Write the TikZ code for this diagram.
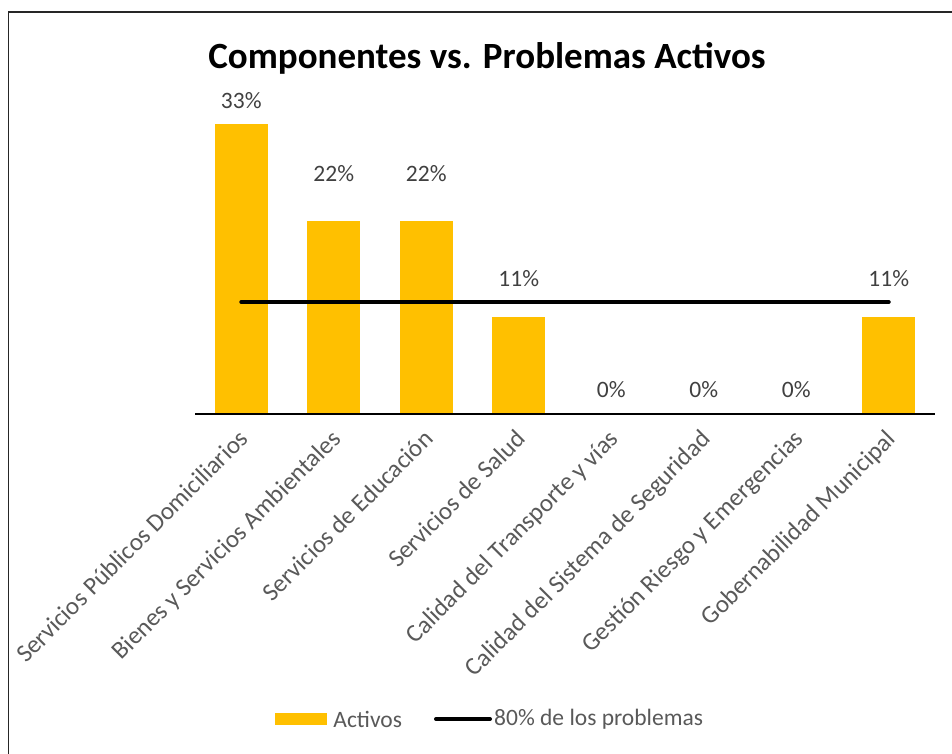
\documentclass[tikz,border=0pt]{standalone}
\usepackage{fontspec}
\setmainfont{Carlito}
\definecolor{barfill}{HTML}{FFC000}
\definecolor{labelgray}{HTML}{595959}
\definecolor{valuegray}{HTML}{404040}
\tikzset{
	bar/.style={fill=barfill,draw=none,inner sep=0pt,minimum width=53pt,anchor=south},
	value/.style={text=valuegray,font=\fontsize{23.5}{28}\selectfont},
	category/.style={text=labelgray,font=\fontsize{25}{30}\selectfont,rotate=45,anchor=north east,inner sep=0pt},
	legendtext/.style={text=labelgray,font=\fontsize{23.5}{28}\selectfont,anchor=west,inner sep=0pt},
	paretoline/.style={line width=4pt,line cap=round,black}
}
\begin{document}
\begin{tikzpicture}[x=1pt,y=-1pt]
	\useasboundingbox (0,0) rectangle (952,753);
%	\draw[style=help lines] (0,0) grid[step=50] (952,753);
	%Frame
	\draw[line width=1.5pt,black!85] (8.5,760) |- (960,12);
	
	%Bar coordinate
	\coordinate (c1) at (241.25,414) ;
	\coordinate (c2) at (333.75,414) ;
	\coordinate (c3) at (426.25,414) ;
	\coordinate (c4) at (518.75,414) ;
	\coordinate (c5) at (611.25,414) ;
	\coordinate (c6) at (703.75,414) ;
	\coordinate (c7) at (796.25,414) ;
	\coordinate (c8) at (888.75,414) ;
	
	%Title
	\node[font=\bfseries\fontsize{37}{44}\selectfont] (title) at (487,58) {Componentes vs. Problemas Activos};
	
	%Bars
	\node[bar,minimum height=290pt] (bar1) at (c1) {};
	\node[bar,minimum height=193.3pt] (bar2) at (c2) {};
	\node[bar,minimum height=193.3pt] (bar3) at (c3) {};
	\node[bar,minimum height=96.7pt] (bar4) at (c4) {};
	\node[bar,minimum height=96.7pt] (bar8) at (c8) {};
	
	%Values
	\node[value] (v1) at (241.25,101) {33\%};
	\node[value] (v2) at (333.75,174) {22\%};
	\node[value] (v3) at (426.25,174) {22\%};
	\node[value] (v4) at (518.75,279) {11\%};
	\node[value] (v5) at (611.25,390) {0\%};
	\node[value] (v6) at (703.75,390) {0\%};
	\node[value] (v7) at (796.25,390) {0\%};
	\node[value] (v8) at (888.75,279) {11\%};
	
	%Lines
	\coordinate (axis1) at (195,414) ;
	\coordinate (axis2) at (935,414) ;
	\draw[line width=1.4pt,black] (axis1)--(axis2); %axis
	\coordinate (pareto1) at (241.25,302) ;
	\coordinate (pareto2) at (888.75,302) ;
	\draw[paretoline] (pareto1)--(pareto2); %80%
	
	%Categories
	\node[category] (cat1) at ([shift={(-4,14)}]c1) {Servicios Públicos Domiciliarios};
	\node[category] (cat2) at ([shift={(-4,14)}]c2) {Bienes y Servicios Ambientales};
	\node[category] (cat3) at ([shift={(-4,14)}]c3) {Servicios de Educación};
	\node[category] (cat4) at ([shift={(-4,14)}]c4) {Servicios de Salud};
	\node[category] (cat5) at ([shift={(-4,14)}]c5) {Calidad del Transporte y vías};
	\node[category] (cat6) at ([shift={(-4,14)}]c6) {Calidad del Sistema de Seguridad};
	\node[category] (cat7) at ([shift={(-4,14)}]c7) {Gestión Riesgo y Emergencias};
	\node[category] (cat8) at ([shift={(-4,14)}]c8) {Gobernabilidad Municipal};
	
	%Legend
	\node[bar,anchor=center,minimum width=52pt,minimum height=12.5pt] (legbar) at (301,719) {};
	\node[legendtext] (legactivos) at ([xshift=6pt]legbar.east) {Activos};
	\coordinate (leg1) at (436,719) ;
	\coordinate (leg2) at (490,719) ;
	\draw[paretoline] (leg1)--(leg2);
	\node[legendtext] (legpareto) at ([xshift=4pt]leg2) {80\% de los problemas};
\end{tikzpicture}
\end{document}
